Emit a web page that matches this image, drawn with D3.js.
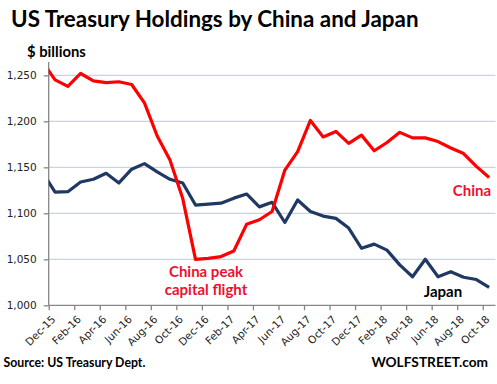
<!DOCTYPE html>
<html>
<head>
<meta charset="utf-8">
<script src="https://d3js.org/d3.v7.min.js"></script>
<style>
  body { margin: 0; background: #fff; }
  svg { display: block; }
</style>
</head>
<body>
<script>
// month of each value (Nov-15 sits just left of the plot and gets clipped)
var months = ["Nov-15","Dec-15","Jan-16","Feb-16","Mar-16","Apr-16","May-16","Jun-16","Jul-16","Aug-16","Sep-16","Oct-16",
              "Nov-16","Dec-16","Jan-17","Feb-17","Mar-17","Apr-17","May-17","Jun-17","Jul-17","Aug-17","Sep-17","Oct-17",
              "Nov-17","Dec-17","Jan-18","Feb-18","Mar-18","Apr-18","May-18","Jun-18","Jul-18","Aug-18","Sep-18","Oct-18"];
var china = [1265,1245, 1238,1252,1244,1242,1243,1240,1220,1184,1158,1116,1050,1051,
             1053,1059,1088,1093,1102,1147,1167,1201,1183,1189,1176,1185,
             1168,1177,1188,1182,1182,1178,1171,1165,1151,1139];
var japan = [1145,1123, 1123.5,1134,1137,1143.5,1133,1148,1154,1145,1137,1133,1109,1110,
             1111,1116.5,1121,1107,1112,1090,1114.5,1102,1097,1094.5,1084,1062,
             1066.5,1060,1044,1031,1050,1031,1036.5,1030.5,1028,1019.5];
var xLabels = ["Dec-15","Feb-16","Apr-16","Jun-16","Aug-16","Oct-16","Dec-16","Feb-17","Apr-17",
               "Jun-17","Aug-17","Oct-17","Dec-17","Feb-18","Apr-18","Jun-18","Aug-18","Oct-18"];
var yTicks = [1000,1050,1100,1150,1200,1250];

function draw() {
  var width = 497, height = 384;
  var pLeft = 48.7, pRight = 495.5, pTop = 62, pBottom = 305.3;
  var nBands = 35; // Dec-15 .. Oct-18

  var svg = d3.select("body").append("svg")
    .attr("width", width)
    .attr("height", height);

  var x = d3.scaleLinear().domain([0, nBands]).range([pLeft, pRight]);
  var y = d3.scaleLinear().domain([1000, 1264.5]).range([pBottom, pTop]);
  var bw = x(1) - x(0);

  // gridlines
  svg.append("g")
    .selectAll("line")
    .data(yTicks.slice(1))
    .enter().append("line")
      .attr("x1", pLeft).attr("x2", pRight)
      .attr("y1", function(d) { return y(d); })
      .attr("y2", function(d) { return y(d); })
      .attr("stroke", "#c9d3e2")
      .attr("stroke-width", 1.3);

  // y axis
  var yAxis = svg.append("g")
    .attr("transform", "translate(" + pLeft + ",0)")
    .call(d3.axisLeft(y).tickValues(yTicks).tickSize(5).tickPadding(7).tickFormat(d3.format(",")));
  yAxis.select(".domain").remove();
  yAxis.append("line").attr("x1", 0).attr("x2", 0).attr("y1", pTop).attr("y2", pBottom)
    .attr("stroke", "#868686").attr("stroke-width", 1.3);
  yAxis.selectAll(".tick line").attr("stroke", "#868686").attr("stroke-width", 1.3);
  yAxis.selectAll("text")
    .attr("font-family", "DejaVu Sans")
    .attr("font-size", 10.5)
    .attr("fill", "#222");

  // x axis
  var xAxis = svg.append("g")
    .attr("transform", "translate(0," + pBottom + ")")
    .call(d3.axisBottom(x).tickValues(d3.range(0, nBands, 2)).tickSize(5)
          .tickFormat(function(d, i) { return xLabels[i]; }));
  xAxis.select(".domain").remove();
  xAxis.append("line").attr("x1", pLeft).attr("x2", pRight).attr("y1", 0).attr("y2", 0)
    .attr("stroke", "#868686").attr("stroke-width", 1.3);
  xAxis.selectAll(".tick line").attr("stroke", "#868686").attr("stroke-width", 1.3);
  xAxis.selectAll("text")
    .attr("font-family", "DejaVu Sans")
    .attr("font-size", 10.5)
    .attr("fill", "#222")
    .attr("x", 0).attr("y", 0).attr("dy", "0.35em")
    .attr("transform", "translate(" + (bw / 2 - 2) + ",12) rotate(-45)")
    .style("text-anchor", "end");

  // lines, clipped to plot area
  svg.append("clipPath").attr("id", "plotClip")
    .append("rect").attr("x", pLeft).attr("y", 0).attr("width", pRight - pLeft).attr("height", pBottom);

  var line = d3.line()
    .x(function(d, i) { return x(i - 0.5); })
    .y(function(d) { return y(d); });

  var plot = svg.append("g").attr("clip-path", "url(#plotClip)");
  plot.append("path")
    .datum(japan)
    .attr("d", line)
    .attr("fill", "none")
    .attr("stroke", "#1f3864")
    .attr("stroke-width", 3.2)
    .attr("stroke-linejoin", "round");
  plot.append("path")
    .datum(china)
    .attr("d", line)
    .attr("fill", "none")
    .attr("stroke", "#ff0000")
    .attr("stroke-width", 3.2)
    .attr("stroke-linejoin", "round");

  // texts
  var boldFont = "Lato";
  svg.append("text")
    .attr("x", 11).attr("y", 27)
    .attr("font-family", boldFont).attr("font-weight", "bold").attr("font-size", 22.4)
    .attr("fill", "#000")
    .text("US Treasury Holdings by China and Japan");

  svg.append("text")
    .attr("x", 27).attr("y", 57)
    .attr("font-family", boldFont).attr("font-weight", "bold").attr("font-size", 14.8)
    .attr("fill", "#000")
    .text("$ billions");

  var note = svg.append("text")
    .attr("font-family", boldFont).attr("font-weight", "bold").attr("font-size", 15)
    .attr("fill", "#ee1030")
    .attr("text-anchor", "middle");
  note.append("tspan").attr("x", 206).attr("y", 276.5).text("China peak");
  note.append("tspan").attr("x", 206).attr("y", 294.5).text("capital flight");

  svg.append("text")
    .attr("x", 472).attr("y", 195.5)
    .attr("font-family", boldFont).attr("font-weight", "bold").attr("font-size", 15)
    .attr("fill", "#ee1030").attr("text-anchor", "middle")
    .text("China");

  svg.append("text")
    .attr("x", 443).attr("y", 296.5)
    .attr("font-family", boldFont).attr("font-weight", "bold").attr("font-size", 15)
    .attr("fill", "#000").attr("text-anchor", "middle")
    .text("Japan");

  svg.append("text")
    .attr("x", 3.5).attr("y", 367)
    .attr("font-family", boldFont).attr("font-weight", "bold").attr("font-size", 12.3)
    .attr("fill", "#000")
    .text("Source: US Treasury Dept.");

  svg.append("text")
    .attr("x", 488).attr("y", 367)
    .attr("font-family", boldFont).attr("font-weight", "bold").attr("font-size", 13.7)
    .attr("fill", "#000").attr("text-anchor", "end")
    .text("WOLFSTREET.com");
}
draw();
</script>
</body>
</html>
